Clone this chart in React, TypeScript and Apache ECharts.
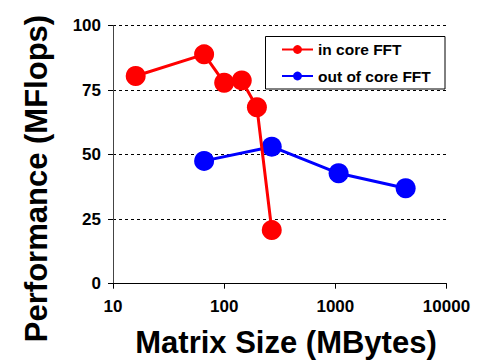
import React, { useEffect, useRef } from "react";
import * as echarts from "echarts";

const inCoreX = [16, 66, 100, 144, 197, 268];
const inCoreY = [80.5, 88.9, 77.9, 78.8, 68.4, 20.8];
const outCoreX = [66, 268, 1070, 4290];
const outCoreY = [47.6, 53.1, 42.8, 37.0];
const seriesNames = ["in core FFT", "out of core FFT"];
const xTitle = "Matrix Size (MBytes)";
const yTitle = "Performance (MFlops)";

const FONT = "Liberation Sans, Arial, sans-serif";

export default function App() {
  const ref = useRef<HTMLDivElement>(null);
  useEffect(() => {
    if (!ref.current) return;
    const chart = echarts.init(ref.current, null, { renderer: "svg" });
    chart.setOption({
      animation: false,
      backgroundColor: "#fff",
      grid: { left: 113, right: 36.5, top: 25.7, bottom: 76.3, containLabel: false },
      xAxis: {
        type: "log",
        logBase: 10,
        min: 10,
        max: 10000,
        axisLine: { show: true, lineStyle: { color: "#000", width: 1 } },
        axisTick: { show: true, length: 5, lineStyle: { color: "#000" } },
        minorTick: { show: false },
        splitLine: { show: false },
        axisLabel: {
          color: "#000",
          fontFamily: FONT,
          fontWeight: "bold",
          fontSize: 17,
          margin: 14,
          formatter: (v: number) => String(Math.round(v)),
        },
      },
      yAxis: {
        type: "value",
        min: 0,
        max: 100,
        interval: 25,
        axisLine: { show: true, lineStyle: { color: "#444", width: 1 } },
        axisTick: { show: true, length: 5, lineStyle: { color: "#000" } },
        splitLine: { show: true, lineStyle: { color: "#000", type: [3, 3], width: 1 } },
        axisLabel: { color: "#000", fontFamily: FONT, fontWeight: "bold", fontSize: 17, margin: 12 },
      },
      legend: {
        orient: "vertical",
        left: 281,
        top: 41.5,
        itemWidth: 31,
        itemHeight: 11,
        itemGap: 10.5,
        padding: 0,
        textStyle: { color: "#000", fontFamily: FONT, fontWeight: "bold", fontSize: 15.5 },
        data: seriesNames,
      },
      graphic: [
        {
          type: "rect",
          z: -1,
          shape: { x: 265.5, y: 36.5, width: 179.5, height: 52.5 },
          style: { fill: "transparent", stroke: "#000", lineWidth: 1 },
        },
        {
          type: "text",
          x: 286,
          y: 342,
          style: {
            text: xTitle,
            fontFamily: FONT,
            fontWeight: "bold",
            fontSize: 31,
            fill: "#000",
            textAlign: "center",
            textVerticalAlign: "middle",
          },
        },
        {
          type: "text",
          x: 36,
          y: 178.5,
          rotation: Math.PI / 2,
          style: {
            text: yTitle,
            fontFamily: FONT,
            fontWeight: "bold",
            fontSize: 31,
            fill: "#000",
            textAlign: "center",
            textVerticalAlign: "middle",
          },
        },
      ],
      series: [
        {
          name: seriesNames[0],
          type: "line",
          data: inCoreX.map((x, i) => [x, inCoreY[i]]),
          symbol: "circle",
          symbolSize: 20,
          itemStyle: { color: "#ff0000" },
          lineStyle: { color: "#ff0000", width: 3 },
          z: 3,
        },
        {
          name: seriesNames[1],
          type: "line",
          data: outCoreX.map((x, i) => [x, outCoreY[i]]),
          symbol: "circle",
          symbolSize: 20,
          itemStyle: { color: "#0000ff" },
          lineStyle: { color: "#0000ff", width: 3 },
          z: 2,
        },
      ],
    });
    return () => chart.dispose();
  }, []);
  return <div ref={ref} style={{ width: 483, height: 360, position: "absolute", left: 0, top: 0 }} />;
}
